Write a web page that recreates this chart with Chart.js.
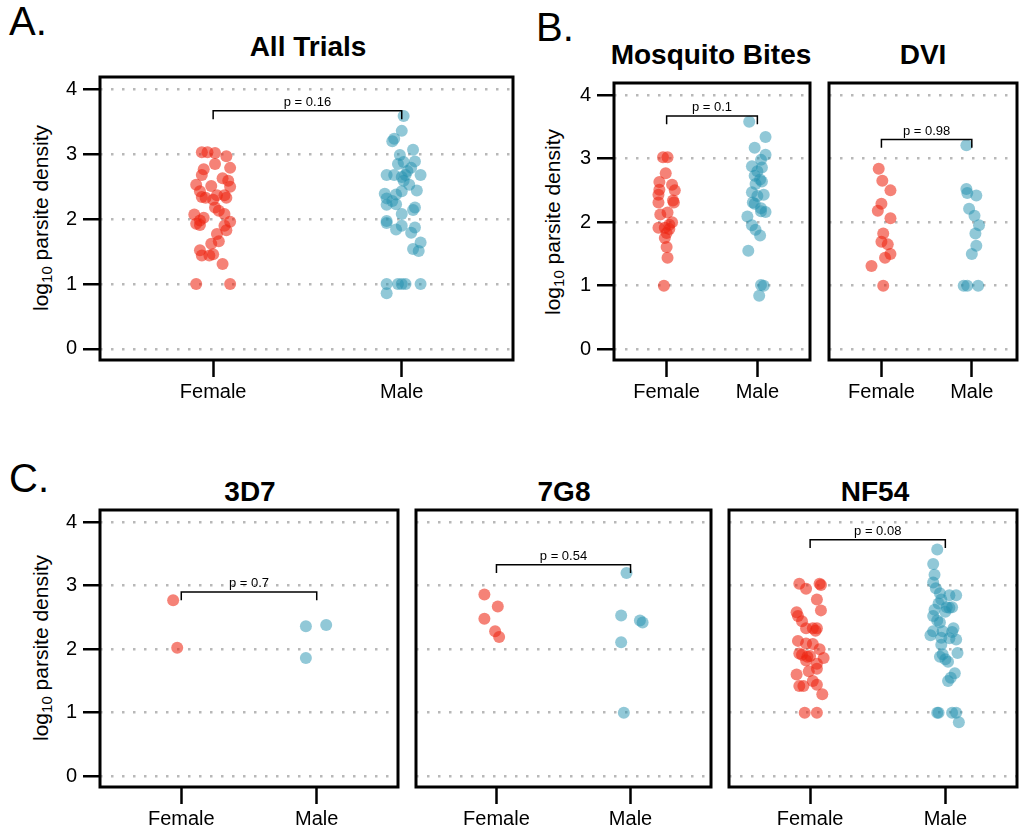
<!DOCTYPE html>
<html>
<head>
<meta charset="utf-8">
<script src="https://cdn.jsdelivr.net/npm/chart.js@4.4.1/dist/chart.umd.min.js"></script>
<style>
  body { margin: 0; background: #fff; width: 1021px; height: 832px; overflow: hidden; position: relative;
         font-family: "Liberation Sans", Arial, sans-serif; color: #000; }
  canvas { position: absolute; }
  .letter { position: absolute; font-size: 40px; line-height: 1; }
  .title { position: absolute; font-size: 28px; font-weight: bold; line-height: 1; white-space: nowrap;
           transform: translate(-50%, -50%); }
  .ylab { position: absolute; font-size: 21px; line-height: 1; white-space: nowrap;
          transform: translate(-50%, -50%) rotate(-90deg); }
  .ylab sub { font-size: 15px; vertical-align: -4px; }
</style>
</head>
<body>
<div class="letter" style="left:9px; top:1px">A.</div>
<div class="letter" style="left:536px; top:7px">B.</div>
<div class="letter" style="left:9px; top:458px">C.</div>

<div class="title" style="left:308px; top:47px">All Trials</div>
<div class="title" style="left:711px; top:55px">Mosquito Bites</div>
<div class="title" style="left:923px; top:55px">DVI</div>
<div class="title" style="left:250px; top:492px">3D7</div>
<div class="title" style="left:564px; top:492px">7G8</div>
<div class="title" style="left:875px; top:492px">NF54</div>

<div class="ylab" style="left:42px; top:218px">log<sub>10</sub> parsite density</div>
<div class="ylab" style="left:554px; top:222px">log<sub>10</sub> parsite density</div>
<div class="ylab" style="left:42px; top:648px">log<sub>10</sub> parsite density</div>

<script>
// groups and axis ticks
const categories = ["Female", "Male"];
const yTicks = [0, 1, 2, 3, 4];

// All trials
const allFemaleX = [0.94,0.97,1.01,1.07,1.01,1.09,0.95,0.94,1.05,1.08,0.91,0.99,1.09,0.93,1.06,0.94,0.96,1.07,1.0,1.02,1.01,1.03,1.06,0.9,0.95,0.93,0.91,0.93,1.09,1.06,1.07,1.02,1.03,0.99,0.93,0.94,0.98,1.0,1.05,0.91,1.09];
const allFemaleY = [3.03,3.03,3.02,2.97,2.85,2.79,2.77,2.68,2.63,2.59,2.53,2.51,2.50,2.43,2.37,2.34,2.33,2.33,2.30,2.37,2.18,2.13,2.08,2.07,2.02,1.98,1.93,1.91,1.96,1.90,1.83,1.77,1.66,1.62,1.52,1.44,1.44,1.46,1.31,1.0,1.0];
const allMaleX = [2.01,2.0,1.96,1.95,2.06,1.99,2.07,1.98,2.01,2.05,2.03,1.92,1.96,2.0,2.02,2.1,2.01,2.04,2.0,2.08,1.91,1.97,1.92,1.95,1.92,1.97,2.07,2.06,2.0,1.92,1.92,2.0,1.97,2.07,2.05,2.1,2.06,2.09,1.92,1.98,2.0,2.02,2.1,1.92];
const allMaleY = [3.59,3.36,3.24,3.20,3.07,2.99,2.89,2.85,2.88,2.79,2.74,2.68,2.68,2.65,2.68,2.68,2.59,2.53,2.43,2.44,2.39,2.38,2.32,2.28,2.22,2.23,2.18,2.14,2.08,1.97,1.94,1.90,1.84,1.87,1.79,1.64,1.54,1.51,1.0,1.0,1.0,1.0,1.0,0.86];

// Mosquito bites
const mosqFemaleX = [0.96,1.01,0.99,0.92,1.06,0.92,1.09,0.91,0.91,1.07,1.08,1.01,0.93,1.06,1.03,0.91,0.98,1.03,1.0,0.98,1.0,1.01,0.97];
const mosqFemaleY = [3.02,3.02,2.77,2.63,2.59,2.51,2.50,2.43,2.31,2.34,2.31,2.15,2.12,2.0,1.96,1.91,1.91,1.89,1.83,1.75,1.61,1.44,1.0];
const mosqMaleX = [1.91,2.09,1.97,2.09,2.04,1.94,2.05,2.0,1.97,2.03,2.05,1.98,1.94,2.07,2.0,1.95,1.97,2.04,2.09,2.04,1.89,1.94,1.98,2.03,1.9,2.04,2.07,2.02];
const mosqMaleY = [3.58,3.34,3.17,3.06,2.98,2.88,2.86,2.80,2.73,2.67,2.64,2.60,2.47,2.43,2.41,2.31,2.29,2.22,2.16,2.17,2.09,1.95,1.88,1.79,1.55,1.01,1.0,0.84];

// DVI
const dviFemaleX = [0.97,1.01,1.10,1.0,0.96,1.10,1.02,1.0,1.07,1.10,1.04,0.89,1.02];
const dviFemaleY = [2.84,2.65,2.50,2.29,2.18,2.06,1.82,1.69,1.65,1.50,1.44,1.31,1.0];
const dviMaleX = [1.94,1.94,1.95,2.05,1.97,2.03,2.08,2.04,2.05,2.0,1.91,1.95,2.07];
const dviMaleY = [3.21,2.52,2.46,2.42,2.21,2.10,1.95,1.82,1.63,1.50,1.0,1.0,1.0];

// 3D7
const s3d7FemaleX = [0.94,0.97];
const s3d7FemaleY = [2.77,2.02];
const s3d7MaleX = [1.92,2.07,1.92];
const s3d7MaleY = [2.36,2.38,1.86];

// 7G8
const s7g8FemaleX = [0.91,1.01,0.91,0.99,1.02];
const s7g8FemaleY = [2.86,2.67,2.48,2.28,2.19];
const s7g8MaleX = [1.97,1.93,2.07,2.09,1.93,1.95];
const s7g8MaleY = [3.20,2.53,2.45,2.42,2.11,1.0];

// NF54
const nf54FemaleX = [0.92,0.97,1.07,1.08,1.05,1.08,0.90,0.91,0.94,0.97,1.02,1.05,1.04,0.91,0.97,1.02,1.07,0.92,0.94,0.98,1.0,1.10,0.97,1.05,1.05,0.99,0.90,1.02,1.05,0.92,0.95,1.09,0.96,1.05];
const nf54FemaleY = [3.03,2.95,3.03,3.01,2.78,2.61,2.58,2.52,2.44,2.33,2.33,2.33,2.29,2.13,2.09,2.08,2.0,1.93,1.91,1.88,1.89,1.86,1.82,1.77,1.69,1.65,1.60,1.50,1.44,1.42,1.42,1.29,1.0,1.0];
const nf54MaleX = [1.94,1.91,1.92,1.91,1.93,1.96,2.03,2.08,1.97,1.95,2.01,2.03,2.05,1.92,2.0,1.91,1.94,1.96,2.06,1.91,1.89,1.98,2.05,1.97,2.03,2.08,1.97,2.09,1.98,1.96,2.0,2.02,2.07,2.04,2.02,1.94,1.95,2.05,2.08,2.1];
const nf54MaleY = [3.57,3.34,3.17,3.05,2.96,2.88,2.85,2.85,2.78,2.72,2.66,2.65,2.66,2.62,2.59,2.52,2.45,2.42,2.33,2.28,2.22,2.28,2.27,2.18,2.17,2.15,2.07,1.94,1.92,1.88,1.84,1.80,1.62,1.55,1.50,1.0,1.0,1.0,1.0,0.85];

// comparison brackets: height and p value per panel
const bracketHeights = [3.67, 3.67, 3.30, 2.90, 3.33, 3.72];
const pValues = ["p = 0.16", "p = 0.1", "p = 0.98", "p = 0.7", "p = 0.54", "p = 0.08"];

const femaleColor = "rgba(238, 35, 15, 0.57)";
const maleColor = "rgba(35, 145, 175, 0.5)";
const axisFont = { family: "Liberation Sans", size: 20 };

// full frame around the plotting area
const boxPlugin = {
  id: "box",
  afterDraw(chart) {
    const { ctx, chartArea: a } = chart;
    ctx.save();
    ctx.lineWidth = 3;
    ctx.strokeStyle = "#000";
    ctx.strokeRect(a.left, a.top, a.right - a.left, a.bottom - a.top);
    ctx.restore();
  }
};

// Female vs Male bracket with p value on top
const bracketPlugin = {
  id: "bracket",
  afterDatasetsDraw(chart, args, opts) {
    const xs = chart.scales.x, ys = chart.scales.y, ctx = chart.ctx;
    const x1 = xs.getPixelForValue(1), x2 = xs.getPixelForValue(2);
    const y = ys.getPixelForValue(opts.y);
    const yEnd = ys.getPixelForValue(opts.y - 0.13);
    ctx.save();
    ctx.lineWidth = 1.5;
    ctx.strokeStyle = "#000";
    ctx.beginPath();
    ctx.moveTo(x1, yEnd);
    ctx.lineTo(x1, y);
    ctx.lineTo(x2, y);
    ctx.lineTo(x2, yEnd);
    ctx.stroke();
    ctx.fillStyle = "#000";
    ctx.font = '13px "Liberation Sans"';
    ctx.textAlign = "center";
    ctx.textBaseline = "bottom";
    ctx.fillText(opts.label, (x1 + x2) / 2, y - 2);
    ctx.restore();
  }
};

const padL = 62, padB = 56, padT = 4, padR = 4;

function drawPanel(box, xMin, xMax, fx, fy, mx, my, idx, showY) {
  const canvas = document.createElement("canvas");
  canvas.width = box.w + padL + padR;
  canvas.height = box.h + padT + padB;
  canvas.style.left = (box.x - padL) + "px";
  canvas.style.top = (box.y - padT) + "px";
  document.body.appendChild(canvas);

  new Chart(canvas, {
    type: "scatter",
    data: {
      datasets: [
        { data: fx.map((x, i) => ({ x: x, y: fy[i] })), backgroundColor: femaleColor, pointRadius: 6, borderWidth: 0 },
        { data: mx.map((x, i) => ({ x: x, y: my[i] })), backgroundColor: maleColor, pointRadius: 6, borderWidth: 0 }
      ]
    },
    options: {
      responsive: false,
      animation: false,
      events: [],
      layout: { padding: { top: padT, right: padR, left: 0, bottom: 0 } },
      plugins: {
        legend: { display: false },
        tooltip: { enabled: false },
        bracket: { y: bracketHeights[idx], label: pValues[idx] }
      },
      scales: {
        x: {
          type: "linear",
          min: xMin,
          max: xMax,
          afterBuildTicks: s => { s.ticks = [1, 2].map(v => ({ value: v })); },
          afterFit: s => { s.height = padB; s.paddingLeft = 0; s.paddingRight = 0; },
          ticks: { callback: v => categories[v - 1], font: axisFont, color: "#000", padding: 3, maxRotation: 0 },
          grid: { drawOnChartArea: false, tickLength: 17, tickColor: "#000", tickWidth: 2.5 },
          border: { display: false }
        },
        y: {
          min: -0.17,
          max: 4.19,
          afterBuildTicks: s => { s.ticks = yTicks.map(v => ({ value: v })); },
          afterFit: s => { s.width = padL; s.paddingTop = 0; s.paddingBottom = 0; },
          ticks: { display: showY, font: axisFont, color: "#000", padding: 6, callback: v => v },
          grid: { color: "#b8b8b8", lineWidth: 2.5, drawTicks: showY, tickLength: 17, tickColor: "#000", tickWidth: 2.5, tickBorderDash: [] },
          border: { display: false, dash: [2.5, 8.5] }
        }
      }
    },
    plugins: [boxPlugin, bracketPlugin]
  });
}

drawPanel({ x: 100, y: 75, w: 415, h: 285 }, 0.4, 2.59, allFemaleX, allFemaleY, allMaleX, allMaleY, 0, true);
drawPanel({ x: 614, y: 81, w: 198, h: 279 }, 0.42, 2.58, mosqFemaleX, mosqFemaleY, mosqMaleX, mosqMaleY, 1, true);
drawPanel({ x: 829, y: 81, w: 190, h: 279 }, 0.42, 2.5, dviFemaleX, dviFemaleY, dviMaleX, dviMaleY, 2, false);
drawPanel({ x: 100, y: 508, w: 300, h: 279 }, 0.4, 2.6, s3d7FemaleX, s3d7FemaleY, s3d7MaleX, s3d7MaleY, 3, true);
drawPanel({ x: 416, y: 508, w: 297, h: 279 }, 0.4, 2.6, s7g8FemaleX, s7g8FemaleY, s7g8MaleX, s7g8MaleY, 4, false);
drawPanel({ x: 729, y: 508, w: 290, h: 279 }, 0.4, 2.53, nf54FemaleX, nf54FemaleY, nf54MaleX, nf54MaleY, 5, false);
</script>
</body>
</html>
